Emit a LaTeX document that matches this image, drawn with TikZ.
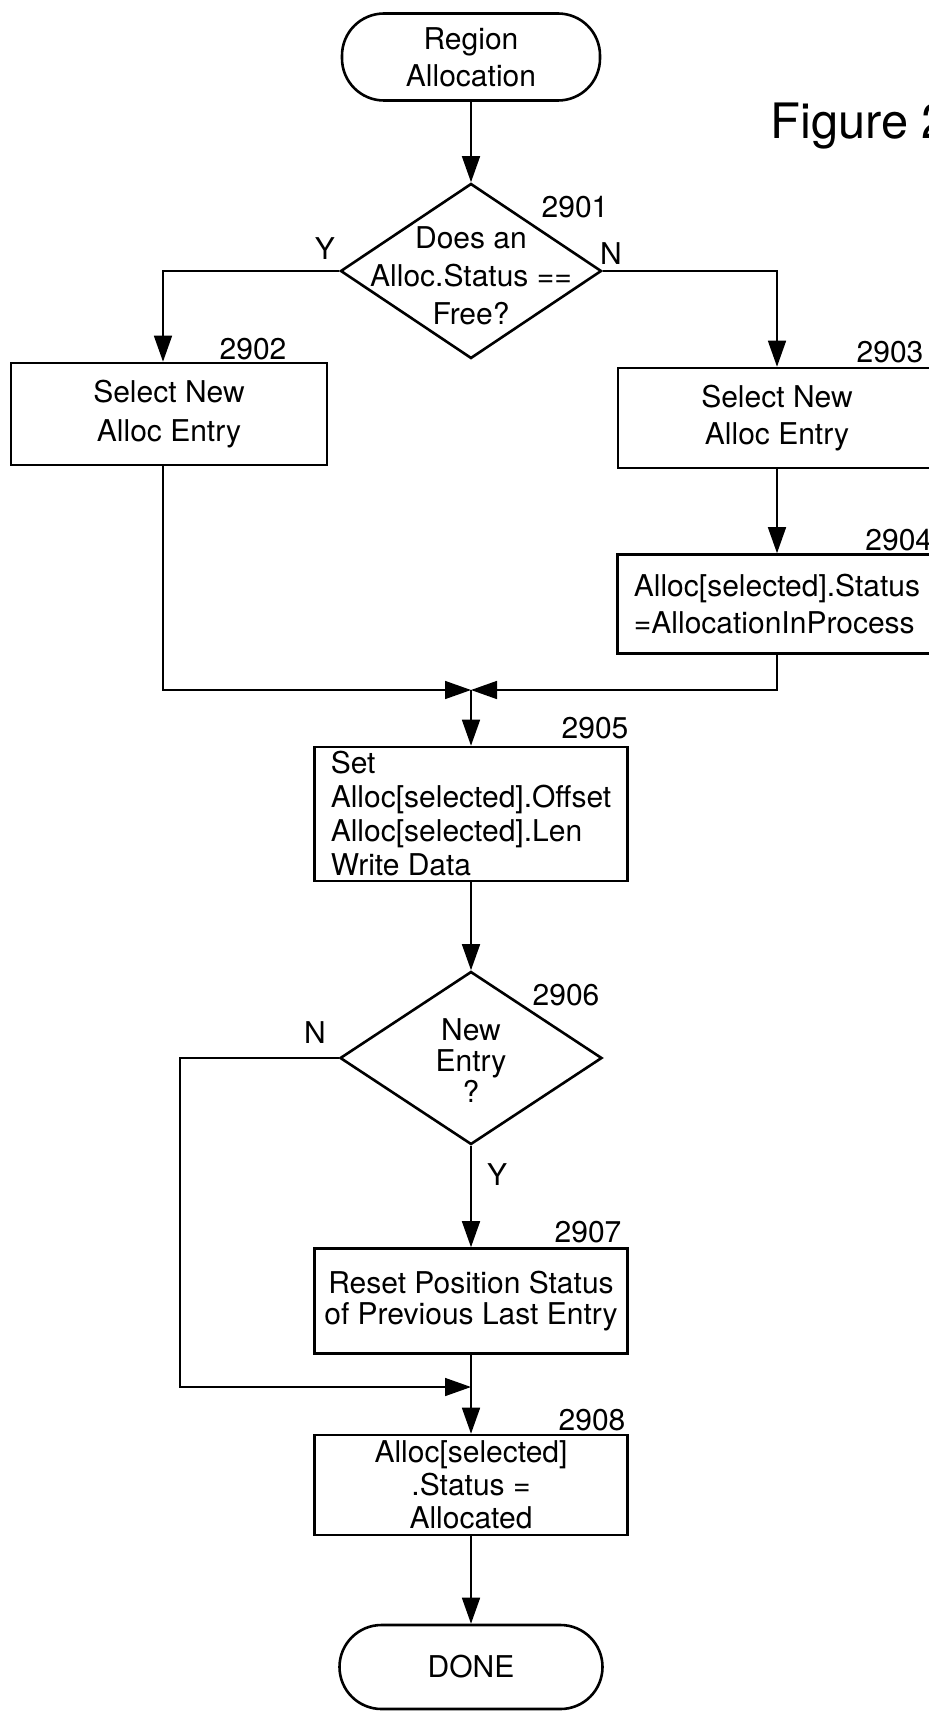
\documentclass[tikz,border=0pt]{standalone}
\usepackage{fontspec}
\setmainfont{TeX Gyre Heros}
\usetikzlibrary{arrows.meta,shapes.geometric}
\newcommand{\fs}[1]{\fontsize{15}{#1}\selectfont}
\begin{document}
\begin{tikzpicture}[x=0.5pt,y=-0.5pt,
  every node/.style={font=\fs{18pt}},
  box/.style={draw, line width=1.3pt, inner sep=0pt, align=center},
  term/.style={box, rounded corners=21pt},
  dia/.style={draw, line width=1.3pt, diamond, inner sep=0pt},
  lbl/.style={inner sep=0pt},
  arr/.style={draw, line width=0.8pt, -{Triangle[length=13pt,width=9pt]}},
  ln/.style={draw, line width=0.8pt}
]
\useasboundingbox (0,0) rectangle (929,1712);

% nodes
\node[term, minimum width=129pt, minimum height=43.5pt, font=\fs{18.5pt}] (start) at (471,57) {Region\\Allocation};
\node[lbl, anchor=base west, font=\fontsize{24.4}{28}\selectfont] (fig) at (770,139) {Figure 2};

\node[dia, minimum width=130.5pt, minimum height=87.5pt] (d1) at (471,271) {};
\node[lbl, align=center, font=\fs{19pt}] (d1t) at (471,276) {Does an\\Alloc.Status ==\\Free?};

\node[box, minimum width=158pt, minimum height=51pt, font=\fs{19.5pt}] (b2) at (169,414) {Select New\\Alloc Entry};
\node[box, minimum width=159pt, minimum height=50pt, font=\fs{18.5pt}] (b3) at (777,418) {Select New\\Alloc Entry};
\node[box, minimum width=159.5pt, minimum height=49.5pt, align=left, font=\fs{18.5pt}] (b4) at (777,604) {Alloc[selected].Status\\=AllocationInProcess};

\coordinate (m) at (471,690);

\node[box, minimum width=156.5pt, minimum height=67pt, align=left, font=\fs{17pt}] (b5) at (471,814) {Set\\Alloc[selected].Offset\\Alloc[selected].Len\\Write Data};

\node[dia, minimum width=131pt, minimum height=86.5pt] (d2) at (471,1058) {};
\node[lbl, align=center, font=\fs{15.5pt}] (d2t) at (471,1061) {New\\Entry\\?};

\node[box, minimum width=156.5pt, minimum height=52.5pt, font=\fs{15.5pt}] (b7) at (471,1301) {Reset Position Status\\of Previous Last Entry};

\coordinate (c1) at (180,1387);
\coordinate (m2) at (471,1387);

\node[box, minimum width=156.5pt, minimum height=50pt, font=\fs{16.5pt}] (b8) at (471,1485) {Alloc[selected]\\.Status =\\Allocated};
\node[term, minimum width=131.5pt, minimum height=42pt] (done) at (471,1667) {DONE};

% reference labels
\node[lbl] (l1) at (575,207) {2901};
\node[lbl] (l2) at (253,349) {2902};
\node[lbl] (l3) at (890,352) {2903};
\node[lbl, anchor=west] (l4) at (865,540) {2904};
\node[lbl] (l5) at (595,728) {2905};
\node[lbl] (l6) at (566,995) {2906};
\node[lbl] (l7) at (588,1232) {2907};
\node[lbl] (l8) at (592,1420) {2908};
\node[lbl] (y1) at (325,249) {Y};
\node[lbl] (n1) at (611,254) {N};
\node[lbl] (n2) at (315,1033) {N};
\node[lbl] (y2) at (497,1175) {Y};

% connectors
\draw[arr] (start.south) -- (d1.north);
\draw[arr] (d1.west) -| ([xshift=-3pt]b2.north);
\draw[arr] (d1.east) -| (b3.north);
\draw[arr] (b3.south) -- (b4.north);
\draw[arr] ([xshift=-3pt]b2.south) |- (m);
\draw[arr] (b4.south) |- (m);
\draw[arr] (m) -- (b5.north);
\draw[arr] (b5.south) -- (d2.north);
\draw[arr] (d2.south) -- (b7.north);
\draw[arr] (d2.west) -| (c1) -- (m2);
\draw[arr] (b7.south) -- (b8.north);
\draw[arr] (b8.south) -- (done.north);
\end{tikzpicture}
\end{document}
